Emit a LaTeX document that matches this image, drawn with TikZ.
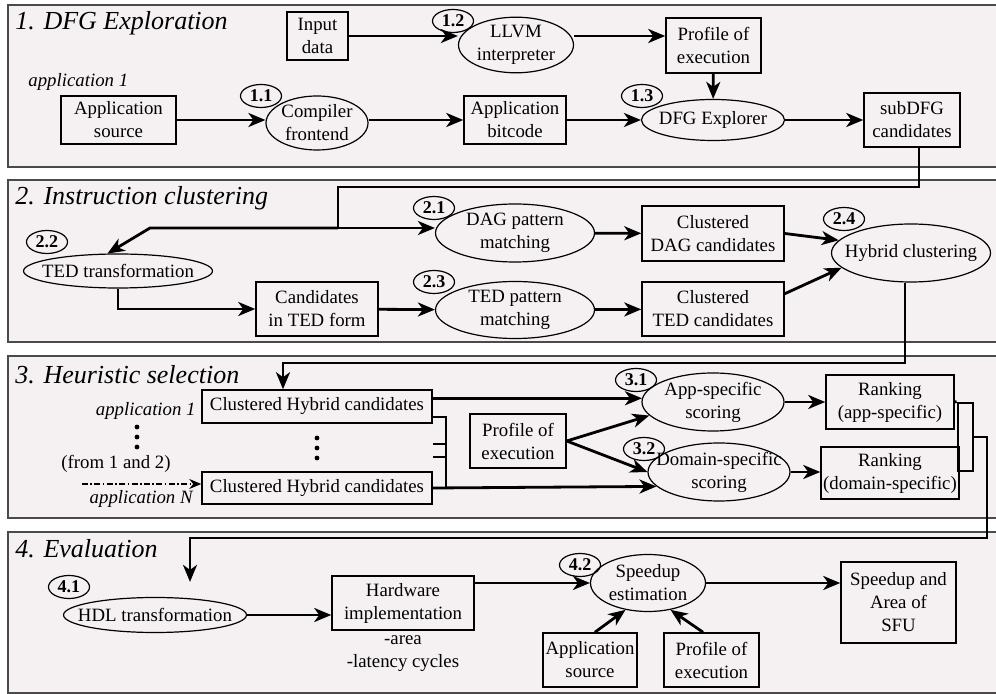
\documentclass[tikz,border=0pt]{standalone}
\usepackage{fontspec}
\setmainfont{Liberation Serif}
\usetikzlibrary{shapes.geometric,arrows.meta,positioning}
\definecolor{panelbg}{HTML}{F5F1F2}
\definecolor{panelline}{HTML}{4A4A4A}

\begin{document}
\begin{tikzpicture}[x=0.5pt, y=-0.5pt,
    every node/.style={font=\fontsize{9.4}{11.5}\selectfont},
    box/.style={draw, rectangle, line width=0.75pt, align=center, inner sep=0pt},
    proc/.style={draw, ellipse, line width=0.6pt, align=center, inner sep=0pt},
    tag/.style={draw, ellipse, line width=0.6pt, inner sep=0pt, minimum width=20.5pt, minimum height=11.5pt, font=\fontsize{9}{10}\selectfont\bfseries},
    title/.style={anchor=west, inner sep=0pt, font=\fontsize{13}{15}\selectfont\itshape},
    note/.style={inner sep=0pt, font=\fontsize{9.4}{11.5}\selectfont\itshape},
    wire/.style={line width=1.4pt},
    flow/.style={line width=1.4pt, -{Stealth[length=8.5pt, width=7pt, inset=2.5pt]}},
    fromline/.style={line width=0.7pt, dash pattern=on 3pt off 1.2pt on 0.8pt off 1.2pt, -{Stealth[length=6pt, width=5pt, inset=2pt]}},
    panelrule/.style={draw=panelline, line width=0.9pt}]
    \useasboundingbox (0,0) rectangle (996,694);

    \fill [panelbg] (8,5) rectangle (996,167);
    \draw [panelrule] (996,5) -- (8,5) -- (8,167) -- (996,167);
    \fill [panelbg] (8,180) rectangle (996,342);
    \draw [panelrule] (996,180) -- (8,180) -- (8,342) -- (996,342);
    \fill [panelbg] (8,356) rectangle (996,518);
    \draw [panelrule] (996,356) -- (8,356) -- (8,518) -- (996,518);
    \fill [panelbg] (8,532) rectangle (996,693);
    \draw [panelrule] (996,532) -- (8,532) -- (8,693) -- (996,693);

    \node [title] (titleA) at (15,23) {1. DFG Exploration};
    \node [title] (titleB) at (15,198) {2. Instruction clustering};
    \node [title] (titleC) at (15,375) {3. Heuristic selection};
    \node [title] (titleD) at (15,549) {4. Evaluation};

    \node [box, minimum width=30.5pt, minimum height=24pt] (inData) at (317.5,36) {Input\\data};
    \node [note, anchor=west] (lblTop) at (28,82) {application 1};
    \node [box, minimum width=57.5pt, minimum height=24pt] (appSrc) at (118.5,120) {Application\\source};
    \node [proc, minimum width=51pt, minimum height=27pt] (compiler) at (317,123) {Compiler\\frontend};
    \node [tag] (tag11) at (261,96) {1.1};
    \node [box, minimum width=51pt, minimum height=24pt] (bitcode) at (515,120) {Application\\bitcode};
    \node [proc, minimum width=57.5pt, minimum height=27.5pt] (llvm) at (516,45) {LLVM\\interpreter};
    \node [tag] (tag12) at (453,21) {1.2};
    \node [box, minimum width=47.5pt, minimum height=27.5pt] (profA) at (713.5,45.5) {Profile of\\execution};
    \node [proc, inner xsep=-2pt, minimum width=71.5pt, minimum height=20.5pt] (dfgExp) at (713,120) {DFG Explorer};
    \node [tag] (tag13) at (642,96) {1.3};
    \node [box, minimum width=48pt, minimum height=27pt] (subDfg) at (912,120) {subDFG\\candidates};

    \draw [flow] (inData.east) -- (inData.east -| llvm.west);
    \draw [flow] (llvm.east |- inData.east) -- (inData.east -| profA.west);
    \draw [flow] (profA) -- (dfgExp);
    \draw [flow] (appSrc.east) -- (appSrc.east -| compiler.west);
    \draw [flow] (compiler.east |- bitcode.west) -- (bitcode.west);
    \draw [flow] (bitcode) -- (dfgExp);
    \draw [flow] (dfgExp) -- (subDfg);

    \node [proc, inner xsep=-4.8pt, minimum width=94.5pt, minimum height=17pt] (tedTr) at (118,271) {TED transformation};
    \node [tag] (tag22) at (47,242) {2.2};
    \node [box, minimum width=61pt, minimum height=27pt] (candTed) at (317,309) {Candidates\\in TED form};
    \node [proc, minimum width=79.5pt, minimum height=29pt] (dagPM) at (515,233) {DAG pattern\\matching};
    \node [tag] (tag21) at (434,208) {2.1};
    \node [proc, minimum width=79.5pt, minimum height=28.5pt] (tedPM) at (515,310) {TED pattern\\matching};
    \node [tag] (tag23) at (434,282) {2.3};
    \node [box, minimum width=71pt, minimum height=27.5pt] (clDag) at (713,233.5) {Clustered\\DAG candidates};
    \node [box, minimum width=71pt, minimum height=27pt] (clTed) at (713,309) {Clustered\\TED candidates};
    \node [proc, inner xsep=-5pt, minimum width=79.5pt, minimum height=29pt] (hybrid) at (911,253) {Hybrid clustering};
    \node [tag] (tag24) at (844,219) {2.4};

    \coordinate (turnA) at (338,187);
    \coordinate (splitA) at (338,228);
    \coordinate (bendA) at (150,228);
    \draw [wire] ([xshift=3.5pt]subDfg.south) |- (turnA) -- (splitA);
    \draw [flow] (splitA) -- (splitA -| dagPM.west);
    \draw [flow] (splitA) -- (bendA) -- (tedTr.121);
    \draw [flow] (tedTr.south) |- (candTed.west);
    \draw [flow] (candTed) -- (tedPM);
    \draw [flow] (dagPM) -- (clDag);
    \draw [flow] (tedPM) -- (clTed);
    \draw [flow] (clDag.east) -- (hybrid.170);
    \draw [flow] (clTed.12) -- (hybrid.192);

    \node [box, minimum width=115pt, minimum height=16.5pt] (chc1) at (317,406.5) {Clustered Hybrid candidates};
    \node [box, minimum width=115pt, minimum height=16pt] (chcN) at (317,488) {Clustered Hybrid candidates};
    \node [note, anchor=east] (lblOne) at (196,411) {application 1};
    \fill (137,427) circle (1.2pt) (137,437) circle (1.2pt) (137,447) circle (1.2pt);
    \fill (317,438) circle (1.2pt) (317,448) circle (1.2pt) (317,458) circle (1.2pt);
    \node (lblFrom) at (116,464) {(from 1 and 2)};
    \node [note, anchor=east] (lblN) at (193,499) {application N};
    \node [box, minimum width=48pt, minimum height=27pt] (profB) at (518,441) {Profile of\\execution};
    \node [proc, minimum width=71pt, minimum height=29pt] (appSc) at (713,402) {App-specific\\scoring};
    \node [tag] (tag31) at (636,380) {3.1};
    \node [proc, inner xsep=-6.3pt, minimum width=71pt, minimum height=29pt] (domSc) at (719,472) {Domain-specific\\scoring};
    \node [tag] (tag32) at (644,449) {3.2};
    \node [box, minimum width=64pt, minimum height=27pt] (rankApp) at (890,402) {Ranking\\(app-specific)};
    \node [box, minimum width=69pt, minimum height=26pt] (rankDom) at (890,473) {Ranking\\(domain-specific)};
    \node [draw, line width=1.4pt, minimum width=7.5pt, minimum height=34pt, inner sep=0pt] (merge) at (965.5,437) {};

    \coordinate (turnB) at (283,363);
    \draw [flow] ([xshift=-3pt]hybrid.south) |- (turnB) -- (turnB |- chc1.north);
    \coordinate (srcN) at (82,484);
    \draw [fromline] (srcN) -- (srcN -| chcN.west);
    \draw [flow] (chc1.east |- appSc.177) -- (appSc.177);
    \coordinate (busTop) at (446,417);
    \coordinate (tickA) at (446,444);
    \coordinate (tickB) at (446,457);
    \draw [wire] (busTop -| chc1.east) -- (busTop) -- (busTop |- chcN.east);
    \draw [wire] (tickA -| chc1.east) -- (tickA);
    \draw [wire] (tickB -| chc1.east) -- (tickB);
    \draw [flow] (chcN.east) -- (domSc.193);
    \draw [flow] (profB.east) -- (appSc.192);
    \draw [flow] (profB.east) -- (domSc.west);
    \draw [flow] (appSc) -- (rankApp);
    \draw [flow] (domSc.east) -- (domSc.east -| rankDom.west);
    \draw [wire] (rankApp.east) -- (merge.north west);

    \node [proc, inner xsep=-6.3pt, minimum width=91.5pt, minimum height=17.5pt] (hdl) at (155,615) {HDL transformation};
    \node [tag] (tag41) at (69,587) {4.1};
    \node [box, minimum width=71pt, minimum height=27pt] (hwImpl) at (403,603) {Hardware\\implementation};
    \node [below=2pt of hwImpl, align=center, inner sep=0pt] (hwNote) {-area\\-latency cycles};
    \node [proc, minimum width=57.5pt, minimum height=28.5pt] (speed) at (648,583) {Speedup\\estimation};
    \node [tag] (tag42) at (580,565) {4.2};
    \node [box, minimum width=57.5pt, minimum height=40.5pt] (sfu) at (898.5,602.5) {Speedup and\\Area of\\SFU};
    \node [box, minimum width=47pt, minimum height=27pt] (appSrcB) at (590,660) {Application\\source};
    \node [box, minimum width=47.5pt, minimum height=27pt] (profC) at (711.5,660) {Profile of\\execution};

    \coordinate (turnC) at (987,538);
    \coordinate (turnD) at (190,538);
    \draw [flow, shorten >=7.5pt] (merge.east) -| (turnC) -- (turnD) -- (turnD |- hdl.north);
    \draw [flow] (hdl.east) -- (hdl.east -| hwImpl.west);
    \draw [flow] (hwImpl.east |- speed.west) -- (speed.west);
    \draw [flow] (speed.east) -- (speed.east -| sfu.west);
    \draw [flow] (appSrcB.80) -- (speed.230);
    \draw [flow] (profC.107) -- (speed.310);
\end{tikzpicture}
\end{document}
